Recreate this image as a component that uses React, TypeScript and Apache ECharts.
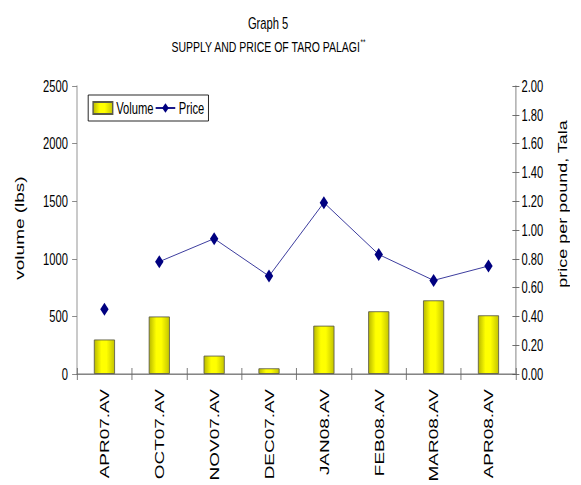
import React, { useEffect, useRef } from "react";
import * as echarts from "echarts";

const categories = ["APR07.AV", "OCT07.AV", "NOV07.AV", "DEC07.AV", "JAN08.AV", "FEB08.AV", "MAR08.AV", "APR08.AV"];
const volume = [300, 500, 160, 50, 420, 545, 640, 510];
const price = [0.45, 0.78, 0.94, 0.68, 1.19, 0.83, 0.65, 0.75];
const volumeAxis = { min: 0, max: 2500, interval: 500 };
const priceAxis = { min: 0, max: 2, interval: 0.2 };
const titleText = "Graph 5";
const subtitleText = "SUPPLY AND PRICE OF TARO PALAGI";
const leftName = "volume (lbs)";
const rightName = "price per pound, Tala";

// The reference picture is horizontally compressed; draw at full width and squeeze.
const SX = 0.7;
const W = 581 / SX;
const H = 485;
const FONT = "'Liberation Sans', Arial, sans-serif";

export default function App() {
  const ref = useRef<HTMLDivElement>(null);
  useEffect(() => {
    document.body.style.margin = "0";
    const chart = echarts.init(ref.current!, null, { renderer: "svg" });
    const barFill = new echarts.graphic.LinearGradient(0, 0, 1, 0, [
      { offset: 0, color: "#b8b800" },
      { offset: 0.35, color: "#ffff00" },
      { offset: 0.6, color: "#ffff00" },
      { offset: 1, color: "#c4c400" },
    ]);
    const lineData = price.map((v, i) => (i === 0 ? "-" : v));
    const soloData = price.map((v, i) => (i === 0 ? v : "-"));
    chart.setOption({
      animation: false,
      textStyle: { fontFamily: FONT },
      title: [
        {
          text: titleText,
          left: 378,
          top: 10,
          textAlign: "center",
          textStyle: { fontFamily: FONT, fontSize: 16, fontWeight: "normal", color: "#000" },
        },
        {
          text: "{a|" + subtitleText + "}{b|**}",
          left: 378,
          top: 33,
          textAlign: "center",
          textStyle: {
            fontFamily: FONT,
            fontWeight: "normal",
            color: "#000",
            rich: {
              a: { fontFamily: FONT, fontSize: 15, color: "#000", lineHeight: 18 },
              b: { fontFamily: FONT, fontSize: 9, color: "#000", verticalAlign: "top", lineHeight: 18 },
            },
          },
        },
      ],
      legend: {
        left: 126,
        top: 95,
        orient: "horizontal",
        padding: [5, 6, 5, 6],
        borderColor: "#000",
        borderWidth: 1,
        backgroundColor: "#fff",
        itemWidth: 28,
        itemHeight: 12,
        itemGap: 2,
        textStyle: { fontFamily: FONT, fontSize: 16, color: "#000" },
        data: [{ name: "Volume", icon: "rect" }, { name: "Price" }],
      },
      grid: { left: 110, right: W - 737, top: 86, bottom: H - 374, containLabel: false },
      xAxis: [
        {
          type: "category",
          data: categories,
          position: "bottom",
          axisLine: { lineStyle: { color: "#000", width: 1 } },
          axisTick: { show: true, inside: false, length: 6, lineStyle: { color: "#666" } },
          axisLabel: { rotate: 90, margin: 15, fontFamily: FONT, fontSize: 19, color: "#000" },
        },
        {
          type: "category",
          data: categories,
          position: "bottom",
          axisLine: { show: false },
          axisTick: { show: true, inside: true, length: 6, lineStyle: { color: "#666" } },
          axisLabel: { show: false },
        },
        {
          type: "category",
          data: categories,
          position: "top",
          axisLine: { lineStyle: { color: "#a6a6a6", width: 1.5 } },
          axisTick: { show: false },
          axisLabel: { show: false },
        },
      ],
      yAxis: [
        {
          type: "value",
          position: "left",
          ...volumeAxis,
          axisLine: { show: true, lineStyle: { color: "#9a9a9a", width: 1.5 } },
          axisTick: { show: true, inside: false, length: 7, lineStyle: { color: "#777" } },
          axisLabel: {
            margin: 13,
            fontFamily: FONT,
            fontSize: 16,
            color: "#000",
            formatter: (v: number) => String(v),
          },
          splitLine: { show: false },
        },
        {
          type: "value",
          position: "right",
          ...priceAxis,
          axisLine: { show: true, lineStyle: { color: "#8a8a8a", width: 1.5 } },
          axisTick: { show: true, inside: false, length: 5, lineStyle: { color: "#555" } },
          axisLabel: {
            margin: 8,
            fontFamily: FONT,
            fontSize: 16,
            color: "#000",
            formatter: (v: number) => v.toFixed(2),
          },
          splitLine: { show: false },
        },
        {
          type: "value",
          position: "right",
          ...priceAxis,
          axisLine: { show: false },
          axisTick: { show: true, inside: true, length: 5, lineStyle: { color: "#555" } },
          axisLabel: { show: false },
          splitLine: { show: false },
        },
      ],
      series: [
        {
          name: "Volume",
          type: "bar",
          xAxisIndex: 0,
          yAxisIndex: 0,
          data: volume,
          barWidth: 30,
          itemStyle: { color: barFill, borderColor: "#5a5a4a", borderWidth: 1 },
        },
        {
          name: "Price",
          type: "line",
          xAxisIndex: 0,
          yAxisIndex: 1,
          data: lineData,
          connectNulls: false,
          symbol: "diamond",
          symbolSize: [12, 13],
          lineStyle: { color: "#1a1a8c", width: 1 },
          itemStyle: { color: "#000080" },
          z: 3,
        },
        {
          name: "Price",
          type: "line",
          xAxisIndex: 0,
          yAxisIndex: 1,
          data: soloData,
          symbol: "diamond",
          symbolSize: [12, 13],
          lineStyle: { color: "#1a1a8c", width: 1 },
          itemStyle: { color: "#000080" },
          z: 3,
        },
      ],
      graphic: [
        {
          type: "text",
          x: 28,
          y: 228,
          rotation: Math.PI / 2,
          style: {
            text: leftName,
            font: "19px " + FONT,
            fill: "#000",
            textAlign: "center",
            textVerticalAlign: "middle",
            align: "center",
            verticalAlign: "middle",
          },
        },
        {
          type: "text",
          x: 804,
          y: 204,
          rotation: Math.PI / 2,
          style: {
            text: rightName,
            font: "18px " + FONT,
            fill: "#000",
            textAlign: "center",
            textVerticalAlign: "middle",
            align: "center",
            verticalAlign: "middle",
          },
        },
      ],
    });
    return () => chart.dispose();
  }, []);
  return (
    <div style={{ width: 581, height: 485, overflow: "hidden", background: "#fff" }}>
      <div
        ref={ref}
        style={{ width: W, height: H, transform: `scaleX(${SX})`, transformOrigin: "0 0" }}
      />
    </div>
  );
}
